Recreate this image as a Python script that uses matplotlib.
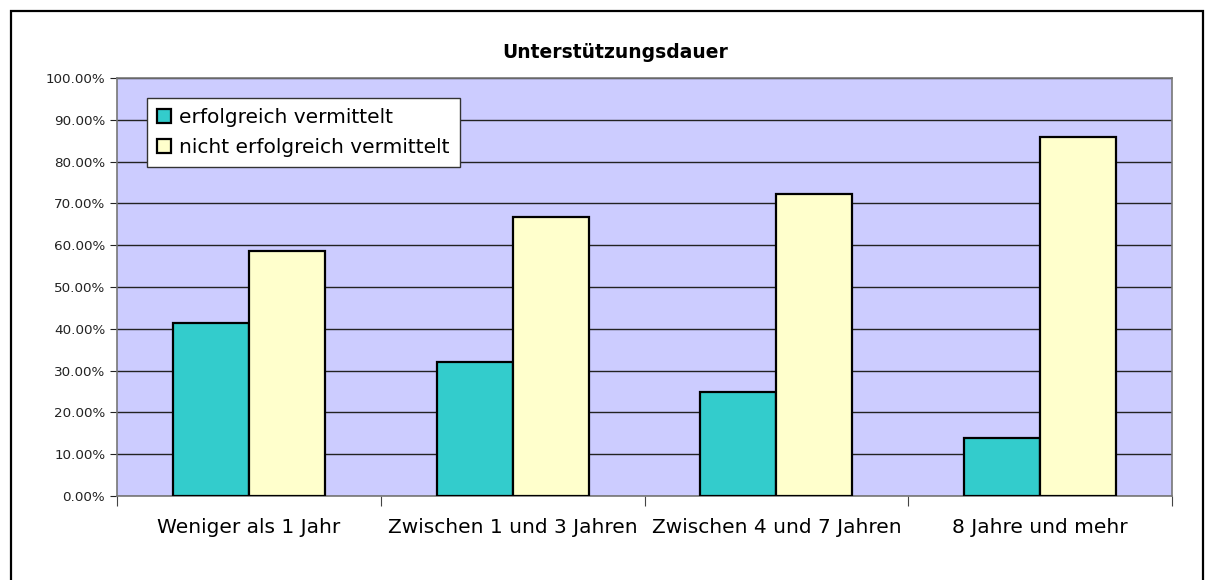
import matplotlib
matplotlib.use("Agg")
import matplotlib.pyplot as plt
import numpy as np
from matplotlib.patches import Rectangle
from matplotlib.ticker import FuncFormatter, FixedLocator

categories = ["Weniger als 1 Jahr", "Zwischen 1 und 3 Jahren",
              "Zwischen 4 und 7 Jahren", "8 Jahre und mehr"]
erfolgreich = [41.4, 32.1, 25.0, 13.8]
nicht_erfolgreich = [58.6, 66.7, 72.2, 86.0]
series_names = ["erfolgreich vermittelt", "nicht erfolgreich vermittelt"]

plt.rcParams['font.family'] = ['DejaVu Sans']

fig = plt.figure(figsize=(12.13, 5.8), dpi=100)
# outer chart border
fig.patches.append(Rectangle((11 / 1213, -0.1), (1203 - 11) / 1213, 1.1 - 11 / 580,
                             transform=fig.transFigure, fill=False,
                             edgecolor='black', linewidth=1.6))

ax = fig.add_axes([117 / 1213, 1 - 496 / 580, (1172 - 117) / 1213, (496 - 78) / 580])
ax.set_facecolor('#CCCCFF')

x = np.arange(len(categories))
w = 0.288
ax.bar(x - w / 2, erfolgreich, w, color='#33CCCC', edgecolor='black',
       linewidth=1.6, label=series_names[0], zorder=3)
ax.bar(x + w / 2, nicht_erfolgreich, w, color='#FFFFCC', edgecolor='black',
       linewidth=1.6, label=series_names[1], zorder=3)

ax.set_xlim(-0.5, len(categories) - 0.5)
ax.set_ylim(0, 100)
ax.set_yticks(np.arange(0, 101, 10))
ax.yaxis.set_major_formatter(FuncFormatter(lambda v, p: f"{v:.2f}%"))
ax.yaxis.grid(True, color='#222222', linewidth=1.0, zorder=0)
ax.tick_params(axis='y', labelsize=9.7, length=5, direction='out', colors='#222222')

ax.xaxis.set_major_locator(FixedLocator(np.arange(-0.5, len(categories), 1)))
ax.xaxis.set_minor_locator(FixedLocator(x))
ax.set_xticklabels([], minor=False)
ax.set_xticklabels(categories, minor=True, fontsize=14.5)
ax.tick_params(axis='x', which='major', length=7, direction='out', color='#444444')
ax.tick_params(axis='x', which='minor', length=0, pad=16)

for side in ['left', 'bottom', 'right', 'top']:
    ax.spines[side].set_color('#777777')
    ax.spines[side].set_linewidth(1.2)

fig.text(615 / 1213, 1 - 52 / 580, "Unterstützungsdauer", fontsize=13.5,
         fontweight='bold', ha='center', va='center')

leg = ax.legend(loc='upper left', bbox_to_anchor=(0.0284, 0.952), fontsize=14.5,
                fancybox=False, framealpha=1, edgecolor='#333333',
                handlelength=0.7, handleheight=0.7, handletextpad=0.4,
                borderpad=0.5, labelspacing=0.55, borderaxespad=0)
leg.get_frame().set_linewidth(1.0)

fig.savefig("out.png", dpi=100)
